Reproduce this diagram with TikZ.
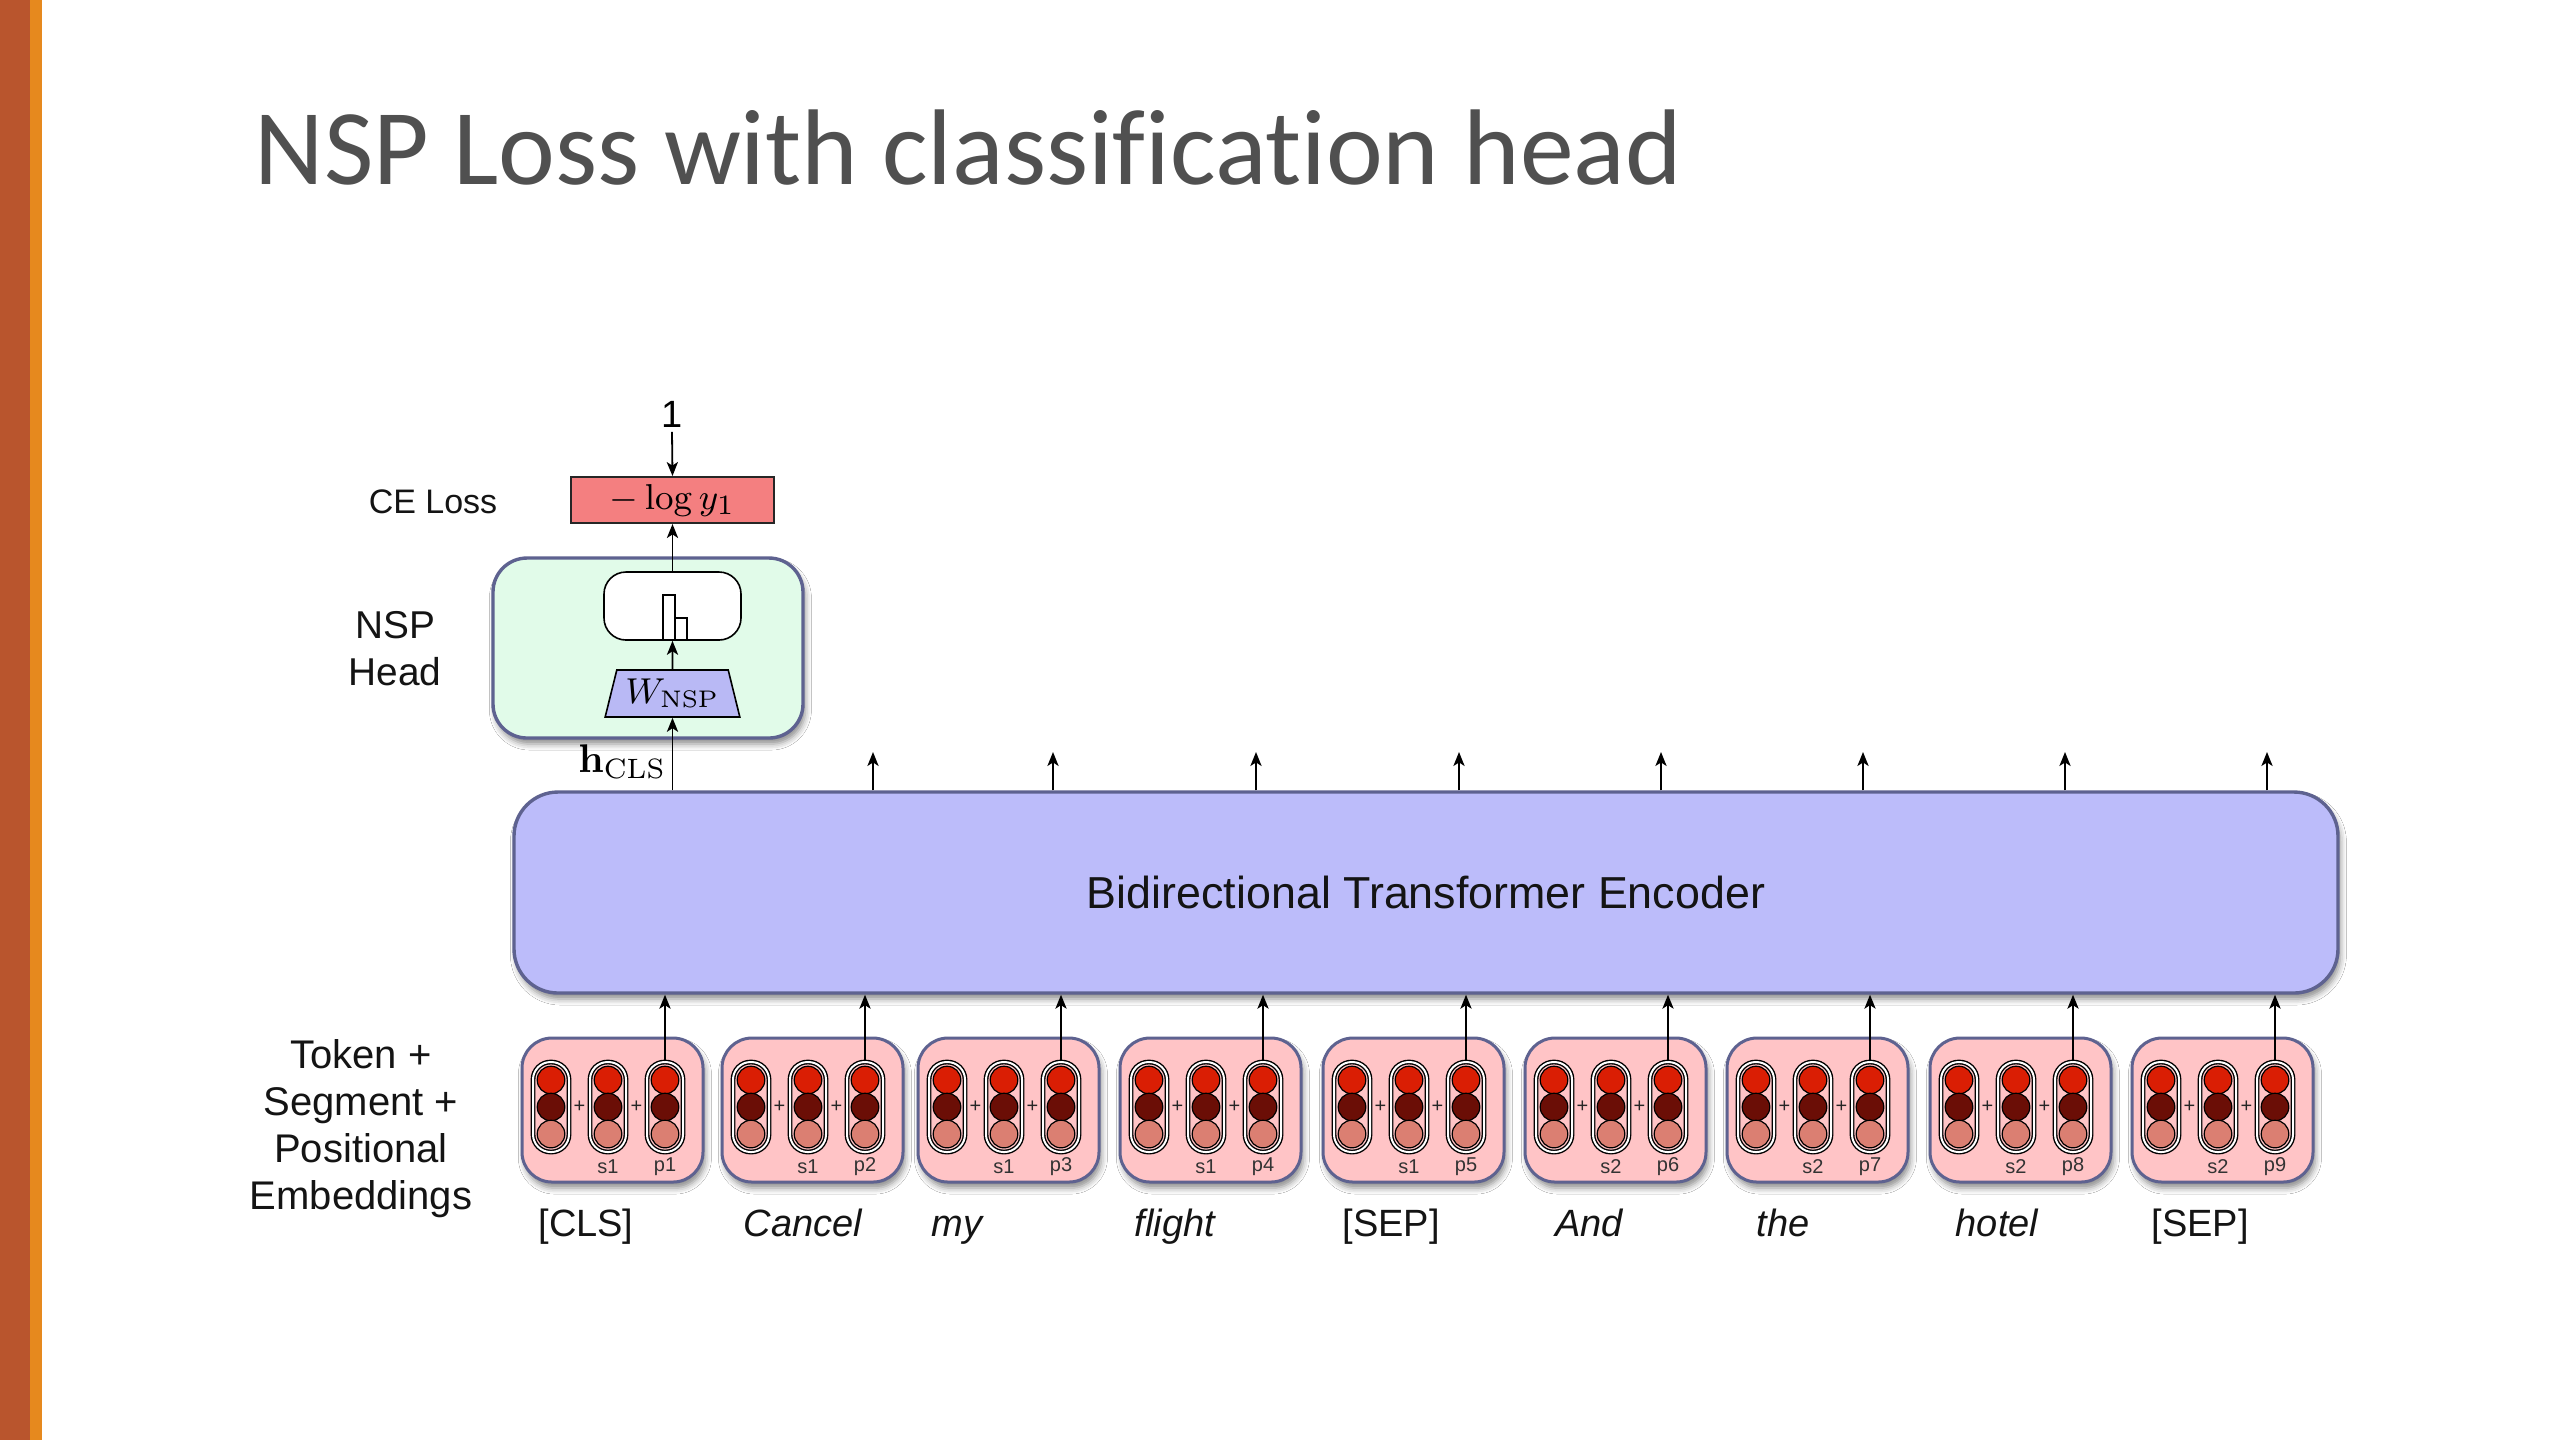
\documentclass[tikz,border=0pt]{standalone}
\usepackage[no-math]{fontspec}
\setmainfont{Liberation Sans}
\newfontfamily\titlefont[Ligatures=NoCommon]{Carlito}
\usetikzlibrary{arrows.meta,shapes.geometric,shadows.blur}

\definecolor{brownbar}{HTML}{B9552D}
\definecolor{orangebar}{HTML}{E6891E}
\definecolor{titlegray}{HTML}{505050}
\definecolor{bordblue}{HTML}{5E6290}
\definecolor{encfill}{HTML}{BCBCFA}
\definecolor{nspfill}{HTML}{E1FBE9}
\definecolor{cefill}{HTML}{F47F80}
\definecolor{trapfill}{HTML}{B9B9F5}
\definecolor{tokfill}{HTML}{FFC4C6}
\definecolor{ballA}{HTML}{DA1E04}
\definecolor{ballB}{HTML}{6B0E06}
\definecolor{ballC}{HTML}{DB7F72}

\tikzset{
  arr/.style={draw=black, line width=0.45pt, -{Stealth[length=3.5pt,width=2.8pt,inset=0.9pt]}},
  softshadow/.style={blur shadow={shadow xshift=0.6pt, shadow yshift=-1.5pt, shadow blur radius=1.5pt, shadow opacity=45}},
  encbox/.style={draw=bordblue, fill=encfill, line width=0.85pt, rounded corners=11pt,
    minimum width=456pt, minimum height=50.25pt, inner sep=0pt, softshadow},
  nspbox/.style={draw=bordblue, fill=nspfill, line width=0.85pt, rounded corners=8.5pt,
    minimum width=77.5pt, minimum height=45pt, inner sep=0pt, softshadow},
  cebox/.style={draw=black!85, fill=cefill, line width=0.5pt, minimum width=50.75pt,
    minimum height=11.5pt, inner sep=0pt},
  smbox/.style={draw=black, fill=white, line width=0.4pt, rounded corners=5.5pt,
    minimum width=34.25pt, minimum height=17pt, inner sep=0pt},
  trapbox/.style={trapezium, draw=black, fill=trapfill, line width=0.4pt,
    trapezium left angle=71, trapezium right angle=71, trapezium stretches=true,
    minimum width=33.75pt, minimum height=11.75pt, inner sep=0pt},
  tokbox/.style={draw=bordblue, fill=tokfill, line width=0.75pt, rounded corners=7.5pt,
    minimum width=45.25pt, minimum height=36pt, inner sep=0pt, softshadow},
  colbox/.style={draw=black, double=white, double distance=0.5pt, line width=0.35pt,
    rounded corners=4.4pt, minimum width=9pt, minimum height=22.5pt, inner sep=0pt},
  emball/.style={circle, draw=black, line width=0.3pt, minimum size=6.9pt, inner sep=0pt},
  plussign/.style={font=\fontsize{5}{6}\selectfont, inner sep=0pt, text=black!85},
  tinylbl/.style={font=\fontsize{5}{6}\selectfont, inner sep=0pt, text=black!80},
  lbl/.style={font=\fontsize{9.7}{11.75}\selectfont, text=black!92, inner sep=0pt, align=center},
  word/.style={font=\fontsize{9.5}{11.75}\selectfont, text=black!92, inner sep=0pt, anchor=base},
  barbox/.style={draw=black, fill=white, line width=0.35pt},
}

\begin{document}
\begin{tikzpicture}[x=0.25pt, y=-0.25pt]
\useasboundingbox (0,0) rectangle (2560,1440);
\fill[white] (0,0) rectangle (2560,1440);
\fill[brownbar] (0,0) rectangle (30,1440);
\fill[orangebar] (30,0) rectangle (42,1440);

% title
\node[anchor=base west, inner sep=0pt, text=titlegray,
  font=\titlefont\fontsize{26.9}{32}\selectfont] (title) at (254,184)
  {NSP Loss with classification head};

% encoder
\node[encbox, font=\fontsize{11.2}{13}\selectfont, text=black!92] (enc) at (1426,892.5)
  {Bidirectional Transformer Encoder};

% NSP head
\node[nspbox] (nsp) at (648,648) {};
\node[smbox] (sm) at (672.5,606) {};
\draw[barbox] (663,640) rectangle (675,595);
\draw[barbox] (675,640) rectangle (687,618);
\node[trapbox, font=\fontsize{9}{11}\selectfont] (trap) at (672.5,693.5) {$W_{\mathrm{NSP}}$};

% CE loss
\node[cebox, font=\fontsize{9.5}{11}\selectfont] (ce) at (672.5,500) {$-\log y_1$};
\node[inner sep=1pt, font=\fontsize{9.5}{11}\selectfont] (one) at (672,414) {1};

% left labels
\node[lbl, font=\fontsize{8.5}{10}\selectfont, anchor=base] (celbl) at (433,513) {CE Loss};
\node[lbl] (nsplbl) at (395,649) {NSP\\Head};
\node[lbl, font=\fontsize{10}{11.75}\selectfont] (emblbl) at (361,1129) {Token +\\Segment +\\Positional\\Embeddings};

% h_CLS label
\node[anchor=base east, inner sep=0pt, font=\fontsize{10}{12}\selectfont] (hcls) at (667,772) {$\mathbf{h}_{\mathrm{CLS}}$};

% token embedding boxes
\foreach \i/\l/\s in {1/522/1,2/722/1,3/918/1,4/1120/1,5/1323/1,6/1525/2,7/1727/2,8/1930/2,9/2132/2}{
  \node[tokbox] (tok\i) at (\l+90.5,1110) {};
  \foreach \j/\o in {1/29,2/86,3/143}{
    \node[colbox] (col\i-\j) at (\l+\o,1107) {};
    \node[emball, fill=ballA] (ball\i-\j-a) at (\l+\o,1080) {};
    \node[emball, fill=ballB] (ball\i-\j-b) at (\l+\o,1107) {};
    \node[emball, fill=ballC] (ball\i-\j-c) at (\l+\o,1134) {};
  }
  \node[plussign] (plusa\i) at (\l+57.5,1107) {+};
  \node[plussign] (plusb\i) at (\l+114.5,1107) {+};
  \node[tinylbl] (seg\i) at (\l+86,1167) {s\s};
  \node[tinylbl] (pos\i) at (\l+143,1167) {p\i};
}

% words
\foreach \i/\x/\w in {1/586/{[CLS]},2/803/{\itshape Cancel},3/957/{\itshape my},4/1175/{\itshape flight},5/1391/{[SEP]},6/1589/{\itshape And},7/1783/{\itshape the},8/1997/{\itshape hotel},9/2200/{[SEP]}}{
  \node[word] (w\i) at (\x,1236) {\w};
}

% input arrows
\foreach \i in {1,...,9}{
  \draw[arr] (col\i-3.north) -- (col\i-3.north |- enc.south);
}

% output arrows
\foreach \i/\x in {2/873,3/1053,4/1256,5/1459,6/1661,7/1863,8/2065,9/2267}{
  \coordinate (out\i) at (\x,752);
  \draw[arr] (out\i |- enc.north) -- (out\i);
}

% NSP chain
\draw[arr] (enc.north -| trap.south) -- (trap.south);
\draw[arr] (trap.north) -- (sm.south);
\draw[arr] (sm.north) -- (ce.south);
\draw[arr] (one.south) -- (ce.north);
\end{tikzpicture}
\end{document}
